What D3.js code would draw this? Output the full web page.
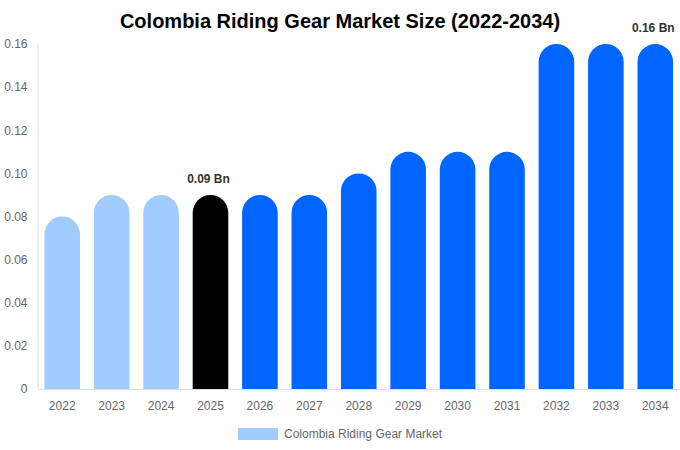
<!DOCTYPE html>
<html>
<head>
<meta charset="utf-8">
<script src="https://cdn.jsdelivr.net/npm/d3@7"></script>
<style>
  body { margin: 0; background: #fff; }
  svg text { font-family: "Liberation Sans", Arial, sans-serif; }
</style>
</head>
<body>
<div id="chart"></div>
<script>
var years = ["2022", "2023", "2024", "2025", "2026", "2027", "2028", "2029", "2030", "2031", "2032", "2033", "2034"];
var values = [0.08, 0.09, 0.09, 0.09, 0.09, 0.09, 0.10, 0.11, 0.11, 0.11, 0.16, 0.16, 0.16];
var barColors = ["#a0cdfd", "#a0cdfd", "#a0cdfd", "#000000", "#0066ff", "#0066ff", "#0066ff",
                 "#0066ff", "#0066ff", "#0066ff", "#0066ff", "#0066ff", "#0066ff"];
var yTicks = [0, 0.02, 0.04, 0.06, 0.08, 0.10, 0.12, 0.14, 0.16];
var labelled = {"2025": "0.09 Bn", "2034": "0.16 Bn"};
var title = "Colombia Riding Gear Market Size (2022-2034)";
var legendLabel = "Colombia Riding Gear Market";

var W = 680, H = 450;
var margin = {top: 44, right: 0, bottom: 61, left: 37.5};
var width = W - margin.left - margin.right,
    height = H - margin.top - margin.bottom;

var svg = d3.select("#chart").append("svg")
    .attr("width", W)
    .attr("height", H);

svg.append("text")
    .attr("x", W / 2)
    .attr("y", 28)
    .attr("text-anchor", "middle")
    .style("font-size", "20px")
    .style("font-weight", "bold")
    .style("fill", "#000")
    .text(title);

var g = svg.append("g")
    .attr("transform", "translate(" + margin.left + "," + margin.top + ")");

var x = d3.scaleBand()
    .domain(years)
    .range([0, width])
    .paddingInner(0.28)
    .paddingOuter(0.14);

var y = d3.scaleLinear()
    .domain([0, 0.16])
    .range([height, 0]);

// y axis
var yAxis = g.append("g")
    .call(d3.axisLeft(y).tickValues(yTicks).tickSize(0).tickPadding(10)
      .tickFormat(function(d) { return d === 0 ? "0" : d3.format(".2f")(d); }));
yAxis.select(".domain").attr("stroke", "#e0e0e0");
yAxis.selectAll("text").style("font-size", "12px").style("fill", "#666");

// x axis
var xAxis = g.append("g")
    .attr("transform", "translate(0," + height + ")")
    .call(d3.axisBottom(x).tickSize(0).tickPadding(12));
xAxis.select(".domain").attr("stroke", "#e0e0e0");
xAxis.selectAll("text").style("font-size", "12px").style("fill", "#666");

// bars with round tops
var bw = x.bandwidth();
var r = bw / 2;
function barPath(d, i) {
  var x0 = x(years[i]), x1 = x0 + bw;
  var top = y(d), bottom = y(0);
  return "M" + x0 + "," + bottom +
         "L" + x0 + "," + (top + r) +
         "A" + r + "," + r + " 0 0 1 " + x1 + "," + (top + r) +
         "L" + x1 + "," + bottom + "Z";
}

g.selectAll(".bar")
    .data(values)
    .enter().append("path")
    .attr("class", "bar")
    .attr("d", barPath)
    .attr("fill", function(d, i) { return barColors[i]; });

g.selectAll(".val")
    .data(years.filter(function(yr) { return labelled[yr]; }))
    .enter().append("text")
    .attr("class", "val")
    .attr("x", function(yr) { return x(yr) + bw / 2 - 2; })
    .attr("y", function(yr) { return y(values[years.indexOf(yr)]) - 12; })
    .attr("text-anchor", "middle")
    .style("font-size", "12px")
    .style("font-weight", "bold")
    .style("fill", "#333")
    .text(function(yr) { return labelled[yr]; });

// legend
var legend = svg.append("g").attr("transform", "translate(238,428)");
legend.append("rect")
    .attr("width", 40)
    .attr("height", 12)
    .attr("fill", "#a0cdfd");
legend.append("text")
    .attr("x", 46)
    .attr("y", 10)
    .style("font-size", "12px")
    .style("fill", "#666")
    .text(legendLabel);
</script>
</body>
</html>
